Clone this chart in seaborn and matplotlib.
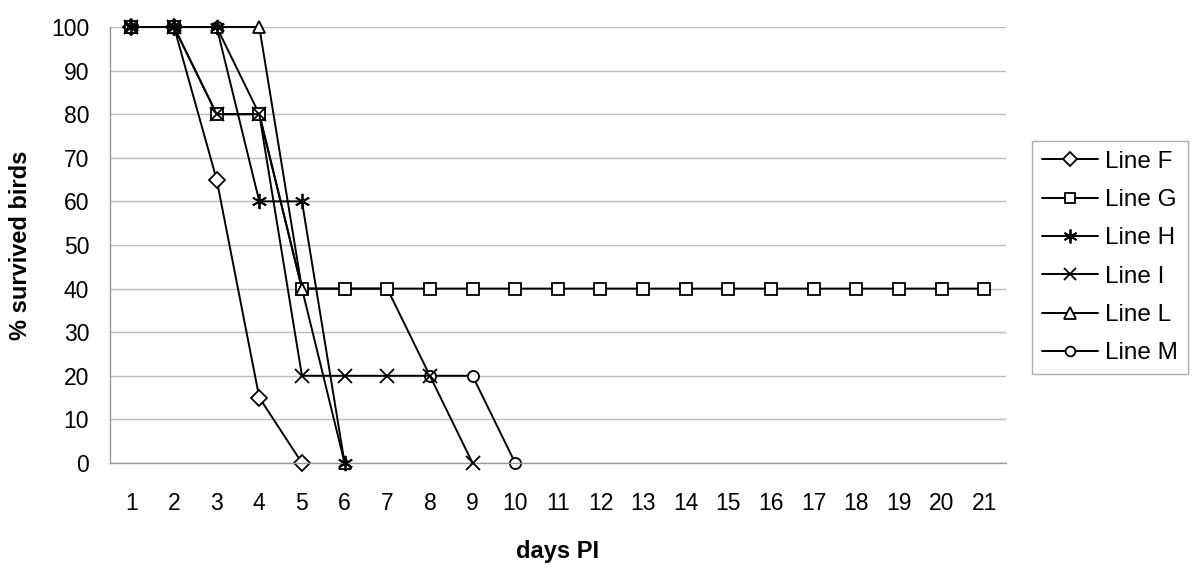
import matplotlib
matplotlib.use("Agg")
import matplotlib.pyplot as plt
import seaborn as sns
import pandas as pd

days = list(range(1, 22))

line_f = [100, 100, 65, 15, 0]
line_g = [100, 100, 80, 80, 40] + [40] * 16
line_h = [100, 100, 100, 60, 60, 0]
line_i = [100, 100, 80, 80, 20, 20, 20, 20, 0]
line_l = [100, 100, 100, 100, 40, 0]
line_m = [100, 100, 100, 80, 40, 40, 40, 20, 20, 0]

# name, values, marker, size, legend size, zorder
series = [
    ("Line F", line_f, "D", 8, 7, 2.3),
    ("Line G", line_g, "s", 9, 7, 2.4),
    ("Line H", line_h, (6, 2, 0), 11, 10, 2.6),
    ("Line I", line_i, "x", 10, 8, 2.7),
    ("Line L", line_l, "^", 9, 8, 2.5),
    ("Line M", line_m, "o", 8, 7, 2.2),
]

sns.set_style("white")
plt.rcParams["font.family"] = ["Liberation Sans", "DejaVu Sans"]
plt.rcParams["text.color"] = "black"
plt.rcParams["axes.labelcolor"] = "black"
plt.rcParams["xtick.labelcolor"] = "black"
plt.rcParams["ytick.labelcolor"] = "black"

fig = plt.figure(figsize=(12, 5.72), dpi=100)
ax = fig.add_axes([0.0917, 0.1906, 0.7463, 0.7622])

for name, vals, mk, ms, _, z in series:
    df = pd.DataFrame({"day": days[:len(vals)], "pct": vals})
    sns.lineplot(data=df, x="day", y="pct", ax=ax, color="black", linewidth=1.4,
                 marker=mk, markersize=ms, markerfacecolor="white",
                 markeredgecolor="black", markeredgewidth=1.3, label=name,
                 clip_on=False, zorder=z)

ax.set_xlim(0.5, 21.5)
ax.set_ylim(0, 100)
ax.set_xticks(days)
ax.set_xticks([d + 0.5 for d in range(0, 22)], minor=True)
ax.set_yticks(range(0, 101, 10))
ax.tick_params(axis="x", which="major", length=0, labelsize=16.5, pad=21)
ax.tick_params(axis="x", which="minor", length=6, width=1, color="#999999", direction="out")
ax.tick_params(axis="y", length=7, width=1, color="#999999", direction="out", labelsize=16.5, pad=8)
ax.yaxis.grid(True, color="#bbbbbb", linewidth=1)
ax.set_axisbelow(True)
for s in ["top", "right"]:
    ax.spines[s].set_visible(False)
for s in ["left", "bottom"]:
    ax.spines[s].set_color("#999999")
    ax.spines[s].set_linewidth(1)

ax.set_xlabel("days PI", fontsize=17, fontweight="bold", labelpad=18)
ax.set_ylabel("% survived birds", fontsize=17, fontweight="bold", labelpad=14)

leg = ax.legend(loc="center left", bbox_to_anchor=(1.03, 0.471), fontsize=17.5,
                frameon=True, fancybox=False, edgecolor="#999999",
                handlelength=2.3, handletextpad=0.3, labelspacing=0.67,
                borderpad=0.4, borderaxespad=0)
leg.get_frame().set_linewidth(1)
for h, s in zip(leg.legend_handles, series):
    h.set_markersize(s[4])

fig.savefig("out.png", dpi=100)
